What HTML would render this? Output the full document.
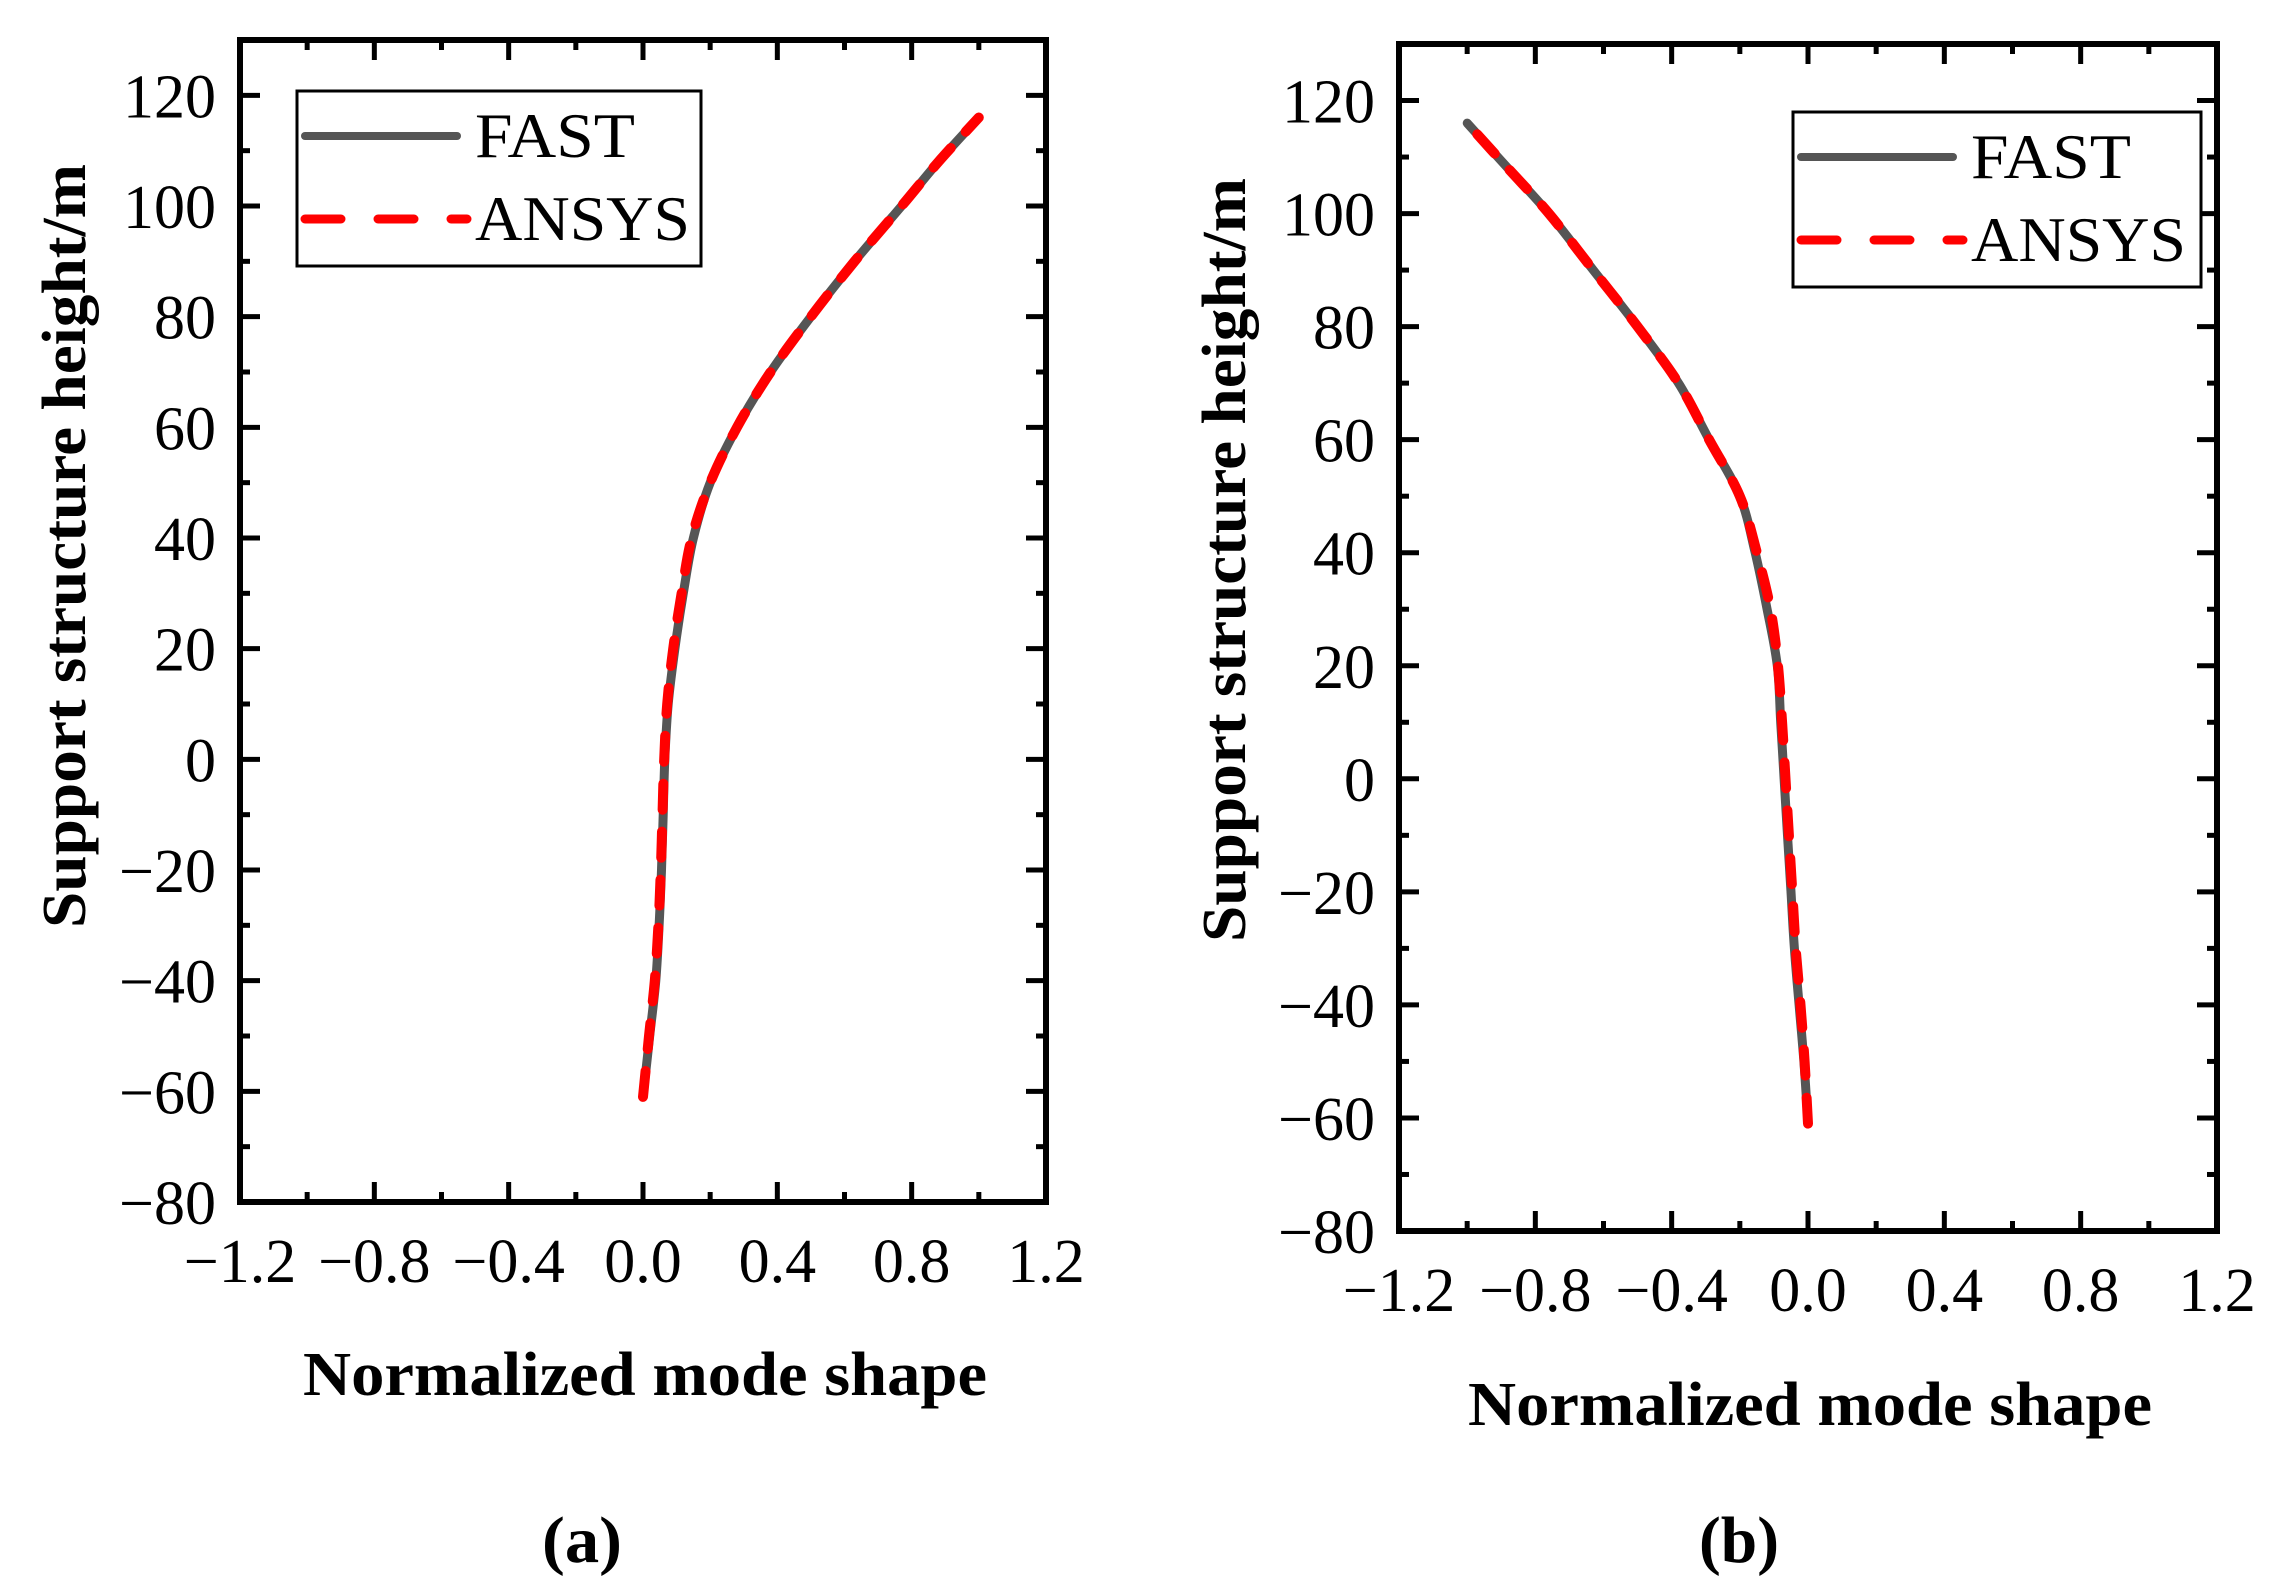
<!DOCTYPE html>
<html><head><meta charset="utf-8"><style>
html,body{margin:0;padding:0;background:#fff;}
svg{display:block;}
text{font-family:"Liberation Serif","Times New Roman",serif;fill:#000;}
</style></head><body>
<svg id="fig" width="2287" height="1594" viewBox="0 0 2287 1594" xmlns="http://www.w3.org/2000/svg"></svg>
<script>
const xTicks = [-1.2, -0.8, -0.4, 0.0, 0.4, 0.8, 1.2];
const xTickLabels = ["\u22121.2", "\u22120.8", "\u22120.4", "0.0", "0.4", "0.8", "1.2"];
const yTicks = [-80, -60, -40, -20, 0, 20, 40, 60, 80, 100, 120];
const yTickLabels = ["\u221280", "\u221260", "\u221240", "\u221220", "0", "20", "40", "60", "80", "100", "120"];
const heightsA = [-61, -50, -40, -30, -20, -10, 0, 10, 20, 30, 40, 50, 60, 70, 80, 90, 100, 108, 116];
const fastA = [0.0, 0.02, 0.038, 0.048, 0.055, 0.06, 0.065, 0.075, 0.095, 0.12, 0.15, 0.2, 0.28, 0.38, 0.5, 0.63, 0.77, 0.88, 1.0];
const ansysA = [0.0, 0.018, 0.035, 0.046, 0.053, 0.058, 0.063, 0.072, 0.09, 0.115, 0.145, 0.2, 0.28, 0.38, 0.5, 0.63, 0.77, 0.88, 1.0];
const heightsB = [-61, -50, -40, -30, -20, -10, 0, 10, 20, 30, 40, 50, 60, 70, 80, 90, 100, 108, 116];
const fastB = [0.0, -0.012, -0.026, -0.04, -0.05, -0.06, -0.07, -0.08, -0.09, -0.12, -0.155, -0.2, -0.29, -0.38, -0.5, -0.63, -0.76, -0.88, -1.0];
const ansysB = [0.0, -0.01, -0.022, -0.036, -0.046, -0.056, -0.066, -0.076, -0.088, -0.11, -0.15, -0.2, -0.29, -0.38, -0.5, -0.63, -0.76, -0.88, -1.0];

const NS = "http://www.w3.org/2000/svg";
const svg = document.getElementById('fig');
function mk(tag, attrs, parent) {
  const e = document.createElementNS(NS, tag);
  for (const k in attrs) e.setAttribute(k, attrs[k]);
  (parent || svg).appendChild(e);
  return e;
}
function smoothPath(p) {
  let d = 'M' + p[0][0].toFixed(1) + ',' + p[0][1].toFixed(1);
  for (let i = 0; i < p.length - 1; i++) {
    const p0 = p[i - 1] || p[i], p1 = p[i], p2 = p[i + 1], p3 = p[i + 2] || p2;
    const c1x = p1[0] + (p2[0] - p0[0]) / 6, c1y = p1[1] + (p2[1] - p0[1]) / 6;
    const c2x = p2[0] - (p3[0] - p1[0]) / 6, c2y = p2[1] - (p3[1] - p1[1]) / 6;
    d += ` C${c1x.toFixed(1)},${c1y.toFixed(1)} ${c2x.toFixed(1)},${c2y.toFixed(1)} ${p2[0].toFixed(1)},${p2[1].toFixed(1)}`;
  }
  return d;
}

function panel(cfg) {
  const g = mk('g', {});
  
  
  const L = cfg.left, R = cfg.right, T = cfg.top, B = cfg.bottom;
  const xs = v => L + (v - (-1.2)) / 2.4 * (R - L);
  const ys = v => B - (v - (-80)) / 210 * (B - T);

  for (let v = -1.2; v <= 1.201; v += 0.2) {
    const x = xs(v);
    const major = Math.abs(Math.round(v * 10) % 4) === 0;
    const len = major ? 20 : 10;
    const t1 = mk('line', {x1: x, x2: x, y1: B, y2: B - len, stroke: '#000', 'stroke-width': 5}, g);
    
    
    const t2 = mk('line', {x1: x, x2: x, y1: T, y2: T + len, stroke: '#000', 'stroke-width': 5}, g);
    
    
  }
  for (let v = -80; v <= 130; v += 10) {
    const y = ys(v);
    const len = (v % 20 === 0) ? 20 : 10;
    const t1 = mk('line', {x1: L, x2: L + len, y1: y, y2: y, stroke: '#000', 'stroke-width': 5}, g);
    
    
    const t2 = mk('line', {x1: R, x2: R - len, y1: y, y2: y, stroke: '#000', 'stroke-width': 5}, g);
    
    
  }
  const fr = mk('rect', {x: L, y: T, width: R - L, height: B - T, fill: 'none', stroke: '#000', 'stroke-width': 6}, g);
  
  

  xTicks.forEach((v, i) => {
    const t = mk('text', {x: xs(v), y: cfg.xLabelY, 'font-size': 62, 'text-anchor': 'middle'}, g);
    t.textContent = xTickLabels[i];
    
    
  });
  yTicks.forEach((v, i) => {
    const t = mk('text', {x: L - 24, y: ys(v) + 22, 'font-size': 62, 'text-anchor': 'end'}, g);
    t.textContent = yTickLabels[i];
    
    
  });

  const xt = mk('text', {x: (L + R) / 2 + 2, y: cfg.xTitleY, 'font-size': 62, 'font-weight': 'bold', 'text-anchor': 'middle', textLength: 684, lengthAdjust: 'spacingAndGlyphs'}, g);
  xt.textContent = 'Normalized mode shape';
  
  
  const yt = mk('text', {x: 0, y: 0, 'font-size': 62, 'font-weight': 'bold', 'text-anchor': 'middle', textLength: 764, lengthAdjust: 'spacingAndGlyphs', transform: `translate(${cfg.yTitleX},${cfg.yTitleC}) rotate(-90)`}, g);
  yt.textContent = 'Support structure height/m';
  
  

  const pts = (xsArr, hs) => hs.map((h, i) => [xs(xsArr[i]), ys(h)]);
  const f = mk('path', {d: smoothPath(pts(cfg.fast, cfg.h)), fill: 'none', stroke: '#555555', 'stroke-width': 9, 'stroke-linejoin': 'round', 'stroke-linecap': 'round'}, g);
  
  
  const a = mk('path', {d: smoothPath(pts(cfg.ansys, cfg.h)), fill: 'none', stroke: '#ff0000', 'stroke-width': 10, 'stroke-dasharray': '26 22', 'stroke-linecap': 'round'}, g);
  
  

  const lg = mk('g', {}, g);
  
  
  const lx = cfg.legX, ly = cfg.legY;
  mk('rect', {x: lx, y: ly, width: cfg.legW, height: 175, fill: '#fff', stroke: '#000', 'stroke-width': 3}, lg);
  const e1 = mk('line', {x1: lx + 8, x2: lx + 160, y1: ly + 45, y2: ly + 45, stroke: '#555555', 'stroke-width': 8, 'stroke-linecap': 'round'}, lg);
  
  
  const e2 = mk('line', {x1: lx + 8, x2: lx + 170, y1: ly + 128, y2: ly + 128, stroke: '#ff0000', 'stroke-width': 9, 'stroke-dasharray': '36 37', 'stroke-linecap': 'round'}, lg);
  
  
  const t1 = mk('text', {x: lx + 178, y: ly + 66, 'font-size': 64, textLength: 160, lengthAdjust: 'spacingAndGlyphs'}, lg);
  t1.textContent = 'FAST';
  
  
  const t2 = mk('text', {x: lx + 178, y: ly + 149, 'font-size': 64, textLength: 215, lengthAdjust: 'spacingAndGlyphs'}, lg);
  t2.textContent = 'ANSYS';
  
  

  const pl = mk('text', {x: cfg.capX, y: 1562, 'font-size': 66, 'font-weight': 'bold', 'text-anchor': 'middle', textLength: 80, lengthAdjust: 'spacingAndGlyphs'}, g);
  pl.textContent = cfg.caption;
  
  
}

panel({name: 'panel-a', left: 240, right: 1046, top: 40, bottom: 1202, xLabelY: 1282, xTitleY: 1395, yTitleX: 85, yTitleC: 546,
  h: heightsA, fast: fastA, ansys: ansysA, legX: 297, legY: 91, legW: 404, capX: 582, caption: '(a)'});
panel({name: 'panel-b', left: 1399, right: 2217, top: 44, bottom: 1231, xLabelY: 1311, xTitleY: 1425, yTitleX: 1245, yTitleC: 560,
  h: heightsB, fast: fastB, ansys: ansysB, legX: 1793, legY: 112, legW: 408, capX: 1739, caption: '(b)'});
</script>
</body></html>
